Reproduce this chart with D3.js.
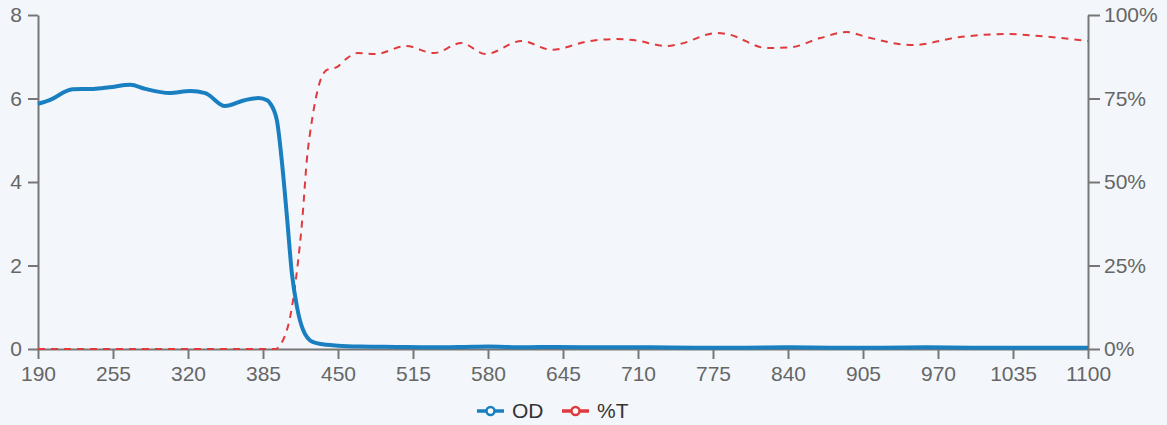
<!DOCTYPE html>
<html>
<head>
<meta charset="utf-8">
<script src="https://cdn.jsdelivr.net/npm/d3@7"></script>
<style>
  body { margin: 0; background: #f3f7fb; }
  svg { display: block; font-family: "Liberation Sans", Arial, sans-serif; }
  .axis path, .axis line { stroke: #777; stroke-width: 2; }
</style>
</head>
<body>
<div id="chart"></div>
<script>
// chart size
const width = 1167;
const height = 425;
const margin = {left: 38, right: 79, top: 15, bottom: 76};
const vis_width = width - margin.left - margin.right;
const vis_height = height - margin.top - margin.bottom;

// data
const od_wl = [190, 200, 220, 238, 252, 270, 283, 304, 322, 335, 352, 369, 381, 389, 391, 397, 401.5, 406, 410, 414.5, 419.7, 428, 440, 450, 470, 500, 530, 560, 580, 610, 640, 680, 720, 760, 800, 840, 880, 920, 960, 1000, 1040, 1100];
const od_val = [5.87, 5.96, 6.22, 6.23, 6.27, 6.33, 6.23, 6.13, 6.18, 6.13, 5.82, 5.96, 6.01, 5.95, 5.89, 5.48, 4.45, 3.09, 1.82, 1.0, 0.46, 0.17, 0.1, 0.08, 0.06, 0.05, 0.04, 0.05, 0.06, 0.04, 0.05, 0.04, 0.04, 0.03, 0.03, 0.04, 0.03, 0.03, 0.04, 0.03, 0.03, 0.03];

const t_wl = [190, 250, 300, 350, 396, 400, 404, 408, 414.5, 419, 423, 427.5, 433, 440, 449, 458, 467, 482, 509, 533, 557, 578, 609, 635, 668, 692, 706, 735, 746, 778, 787, 822, 842, 868, 891, 908, 948, 989, 1030, 1058, 1100];
const t_val = [0, 0, 0, 0, 0, 1.2, 4, 8.7, 23.6, 38.6, 56.6, 68.6, 78.4, 83.5, 84.4, 87.1, 88.6, 88.3, 90.7, 88.6, 91.6, 88.3, 92.2, 89.6, 92.2, 92.8, 92.5, 90.7, 91.3, 94.6, 94.3, 90.1, 90.3, 93.1, 94.9, 93.4, 91.0, 93.4, 94.3, 93.7, 92.2];

const x_ticks = [190, 255, 320, 385, 450, 515, 580, 645, 710, 775, 840, 905, 970, 1035, 1100];
const od_ticks = [0, 2, 4, 6, 8];
const t_ticks = [0, 25, 50, 75, 100];

const series_names = ["OD", "%T"];
const series_colors = ["#1a7fc1", "#e03a3c"];

const svg = d3.select("#chart")
    .append("svg")
        .attr("width", width)
        .attr("height", height);

const g = svg.append("g")
    .attr("transform", "translate(" + margin.left + "," + margin.top + ")");

// scales
const X_SCALE = d3.scaleLinear().domain([190, 1100]).range([0, vis_width]);
const Y_OD = d3.scaleLinear().domain([0, 8]).range([vis_height, 0]);
const Y_T = d3.scaleLinear().domain([0, 100]).range([vis_height, 0]);

// axes
g.append("g")
    .attr("class", "axis")
    .attr("transform", "translate(0," + vis_height + ")")
    .call(d3.axisBottom(X_SCALE).tickValues(x_ticks).tickSize(10).tickSizeOuter(0).tickPadding(7)
        .tickFormat(d3.format("d")));

g.append("g")
    .attr("class", "axis")
    .call(d3.axisLeft(Y_OD).tickValues(od_ticks).tickSize(10).tickSizeOuter(0).tickPadding(6));

g.append("g")
    .attr("class", "axis")
    .attr("transform", "translate(" + vis_width + ",0)")
    .call(d3.axisRight(Y_T).tickValues(t_ticks).tickSize(12).tickSizeOuter(0).tickPadding(4)
        .tickFormat(d => d + "%"));

g.selectAll(".axis text")
    .attr("fill", "#666")
    .style("font-size", "21px");

// lines
const od_data = od_wl.map((w, i) => ({x: w, y: od_val[i]}));
const t_data = t_wl.map((w, i) => ({x: w, y: t_val[i]}));

g.append("path")
    .datum(t_data)
    .attr("fill", "none")
    .attr("stroke", series_colors[1])
    .attr("stroke-width", 2)
    .attr("stroke-dasharray", "7,6")
    .attr("d", d3.line().x(d => X_SCALE(d.x)).y(d => Y_T(d.y)).curve(d3.curveMonotoneX));

g.append("path")
    .datum(od_data)
    .attr("fill", "none")
    .attr("stroke", series_colors[0])
    .attr("stroke-width", 4)
    .attr("stroke-linejoin", "round")
    .attr("d", d3.line().x(d => X_SCALE(d.x)).y(d => Y_OD(d.y)).curve(d3.curveMonotoneX));

// legend
const legend = svg.append("g").attr("transform", "translate(477,411)");
const items = legend.selectAll("g")
    .data(series_names)
    .enter().append("g")
        .attr("transform", (d, i) => "translate(" + (i * 85) + ",0)");

items.append("line")
    .attr("x1", 0).attr("x2", 27)
    .attr("stroke", (d, i) => series_colors[i])
    .attr("stroke-width", 3.5);

items.append("circle")
    .attr("cx", 13.5).attr("r", 4)
    .attr("fill", "#fff")
    .attr("stroke", (d, i) => series_colors[i])
    .attr("stroke-width", 2.5);

items.append("text")
    .attr("x", 35)
    .attr("dy", "0.35em")
    .attr("fill", "#333")
    .style("font-size", "21px")
    .text(d => d);
</script>
</body>
</html>
